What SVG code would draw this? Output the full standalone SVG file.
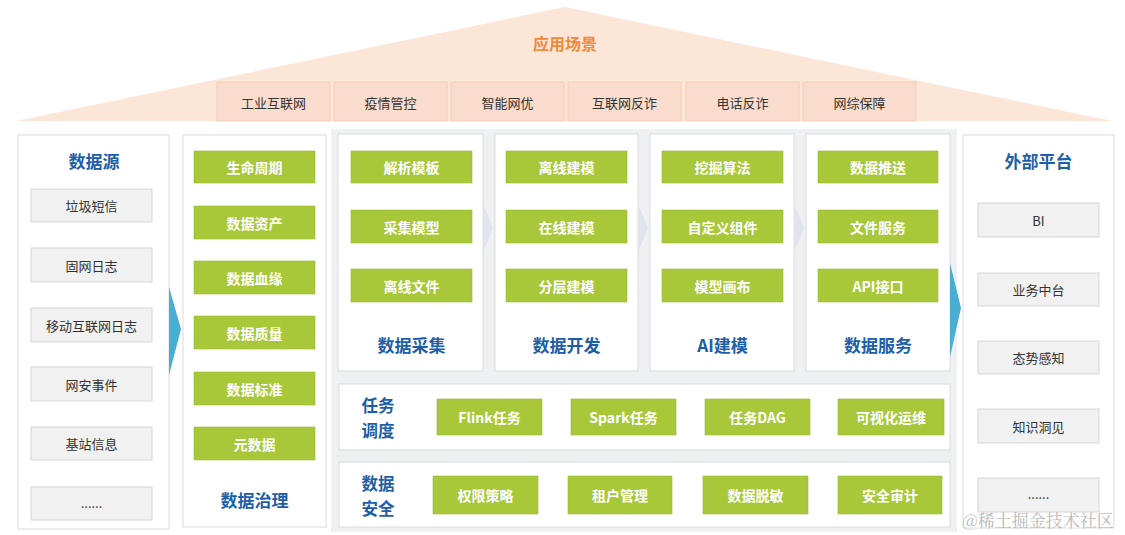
<svg xmlns="http://www.w3.org/2000/svg" width="1125" height="535" viewBox="0 0 1125 535">
<style>
text{font-family:"Noto Sans CJK SC","Noto Sans",sans-serif;text-anchor:middle;dominant-baseline:central}
.panel{fill:#ffffff;stroke:#d9dce1;stroke-width:1}
.title{fill:#1d5ea8;font-size:17px;font-weight:700}
.stitle{fill:#1d5ea8;font-size:16.5px;font-weight:700}
.green{fill:#a8c83a;stroke:#9bbb33;stroke-width:0.6}
.gtxt{fill:#ffffff;font-size:14px;font-weight:700}
.gray{fill:#f1f1f1;stroke:#d6d6d6;stroke-width:1}
.btxt{fill:#333333;font-size:13px}
.scen{fill:#f9dccb;stroke:#f3cdb8;stroke-width:1}
.blue{fill:#4aaed3}
.faint{fill:#dfe4ee}
</style>
<rect x="0" y="0" width="1125" height="535" fill="#ffffff"/>
<rect x="331" y="129" width="626" height="403" fill="#eff0f2"/>

<g id="scenarios">
  <polygon points="565,7 1112,121 16,121" fill="#fbe6d8"/>
  <text x="565" y="43" fill="#ee8a3a" font-size="16" font-weight="700">应用场景</text>
  <rect class="scen" x="217" y="82" width="113" height="39"/><text class="btxt" x="273.5" y="102">工业互联网</text>
  <rect class="scen" x="334" y="82" width="113" height="39"/><text class="btxt" x="390.5" y="102">疫情管控</text>
  <rect class="scen" x="451" y="82" width="113" height="39"/><text class="btxt" x="507.5" y="102">智能网优</text>
  <rect class="scen" x="568" y="82" width="113" height="39"/><text class="btxt" x="624.5" y="102">互联网反诈</text>
  <rect class="scen" x="686" y="82" width="113" height="39"/><text class="btxt" x="742.5" y="102">电话反诈</text>
  <rect class="scen" x="803" y="82" width="113" height="39"/><text class="btxt" x="859.5" y="102">网综保障</text>
</g>

<g id="datasource">
  <rect class="panel" x="18" y="135" width="151" height="394"/>
  <text class="title" x="94" y="160">数据源</text>
  <rect class="gray" x="31" y="189" width="121" height="33"/><text class="btxt" x="91.5" y="205.5">垃圾短信</text>
  <rect class="gray" x="31" y="248" width="121" height="34"/><text class="btxt" x="91.5" y="265">固网日志</text>
  <rect class="gray" x="31" y="308" width="121" height="34"/><text class="btxt" x="91.5" y="325">移动互联网日志</text>
  <rect class="gray" x="31" y="367" width="121" height="34"/><text class="btxt" x="91.5" y="384">网安事件</text>
  <rect class="gray" x="31" y="427" width="121" height="33"/><text class="btxt" x="91.5" y="443.5">基站信息</text>
  <rect class="gray" x="31" y="487" width="121" height="33"/><text class="btxt" x="91.5" y="502">......</text>
</g>

<g id="governance">
  <rect class="panel" x="183" y="135" width="143" height="392"/>
  <rect class="green" x="194" y="151" width="121" height="32"/><text class="gtxt" x="254.5" y="167">生命周期</text>
  <rect class="green" x="194" y="206" width="121" height="33"/><text class="gtxt" x="254.5" y="222.5">数据资产</text>
  <rect class="green" x="194" y="261" width="121" height="33"/><text class="gtxt" x="254.5" y="277.5">数据血缘</text>
  <rect class="green" x="194" y="316" width="121" height="33"/><text class="gtxt" x="254.5" y="332.5">数据质量</text>
  <rect class="green" x="194" y="372" width="121" height="33"/><text class="gtxt" x="254.5" y="388.5">数据标准</text>
  <rect class="green" x="194" y="427" width="121" height="33"/><text class="gtxt" x="254.5" y="443.5">元数据</text>
  <text class="title" x="254.5" y="499">数据治理</text>
</g>

<g id="collect">
  <rect class="panel" x="338" y="134" width="145" height="237"/>
  <rect class="green" x="351" y="151" width="121" height="32"/><text class="gtxt" x="411.5" y="167">解析模板</text>
  <rect class="green" x="351" y="210" width="121" height="33"/><text class="gtxt" x="411.5" y="226.5">采集模型</text>
  <rect class="green" x="351" y="269" width="121" height="33"/><text class="gtxt" x="411.5" y="285.5">离线文件</text>
  <text class="title" x="411.5" y="344">数据采集</text>
</g>

<g id="develop">
  <rect class="panel" x="495" y="134" width="143" height="237"/>
  <rect class="green" x="506" y="151" width="121" height="32"/><text class="gtxt" x="566.5" y="167">离线建模</text>
  <rect class="green" x="506" y="210" width="121" height="33"/><text class="gtxt" x="566.5" y="226.5">在线建模</text>
  <rect class="green" x="506" y="269" width="121" height="33"/><text class="gtxt" x="566.5" y="285.5">分层建模</text>
  <text class="title" x="566.5" y="344">数据开发</text>
</g>

<g id="aimodel">
  <rect class="panel" x="650" y="134" width="144" height="237"/>
  <rect class="green" x="662" y="151" width="121" height="32"/><text class="gtxt" x="722.5" y="167">挖掘算法</text>
  <rect class="green" x="662" y="210" width="121" height="33"/><text class="gtxt" x="722.5" y="226.5">自定义组件</text>
  <rect class="green" x="662" y="269" width="121" height="33"/><text class="gtxt" x="722.5" y="285.5">模型画布</text>
  <text class="title" x="722.5" y="344">AI建模</text>
</g>

<g id="service">
  <rect class="panel" x="806" y="134" width="144" height="237"/>
  <rect class="green" x="818" y="151" width="120" height="32"/><text class="gtxt" x="878" y="167">数据推送</text>
  <rect class="green" x="818" y="210" width="120" height="33"/><text class="gtxt" x="878" y="226.5">文件服务</text>
  <rect class="green" x="818" y="269" width="120" height="33"/><text class="gtxt" x="878" y="285.5">API接口</text>
  <text class="title" x="878" y="344">数据服务</text>
</g>

<g id="schedule">
  <rect class="panel" x="339" y="384" width="611" height="66"/>
  <text class="stitle" x="378" y="405">任务</text>
  <text class="stitle" x="378" y="430">调度</text>
  <rect class="green" x="437" y="399" width="105" height="36"/><text class="gtxt" x="489.5" y="417">Flink任务</text>
  <rect class="green" x="571" y="399" width="105" height="36"/><text class="gtxt" x="623.5" y="417">Spark任务</text>
  <rect class="green" x="705" y="399" width="105" height="36"/><text class="gtxt" x="757.5" y="417">任务DAG</text>
  <rect class="green" x="838" y="399" width="106" height="36"/><text class="gtxt" x="891" y="417">可视化运维</text>
</g>

<g id="security">
  <rect class="panel" x="339" y="462" width="611" height="65"/>
  <text class="stitle" x="378" y="483">数据</text>
  <text class="stitle" x="378" y="508">安全</text>
  <rect class="green" x="433" y="476" width="105" height="38"/><text class="gtxt" x="485.5" y="495">权限策略</text>
  <rect class="green" x="568" y="476" width="104" height="38"/><text class="gtxt" x="620" y="495">租户管理</text>
  <rect class="green" x="703" y="476" width="105" height="38"/><text class="gtxt" x="755.5" y="495">数据脱敏</text>
  <rect class="green" x="838" y="476" width="104" height="38"/><text class="gtxt" x="890" y="495">安全审计</text>
</g>

<g id="external">
  <rect class="panel" x="963" y="135" width="151" height="393"/>
  <text class="title" x="1038.5" y="160">外部平台</text>
  <rect class="gray" x="978" y="203" width="121" height="34"/><text class="btxt" x="1038.5" y="220">BI</text>
  <rect class="gray" x="978" y="273" width="121" height="33"/><text class="btxt" x="1038.5" y="289.5">业务中台</text>
  <rect class="gray" x="978" y="341" width="121" height="33"/><text class="btxt" x="1038.5" y="357.5">态势感知</text>
  <rect class="gray" x="978" y="409" width="121" height="34"/><text class="btxt" x="1038.5" y="426">知识洞见</text>
  <rect class="gray" x="978" y="478" width="121" height="34"/><text class="btxt" x="1038.5" y="493">......</text>
</g>

<g id="connectors">
  <polygon class="blue" points="169,287 181,329 169,375"/>
  <polygon class="blue" points="950,263 961,308 950,357"/>
  <polygon class="faint" points="484,206 493,228 484,250"/>
  <polygon class="faint" points="639,206 648,228 639,250"/>
  <polygon class="faint" points="795,206 804,228 795,250"/>
</g>

<text x="1038" y="519" fill="#b8b8b8" font-size="17" style="font-family:'Noto Serif CJK SC','Noto Sans CJK SC',serif">@稀土掘金技术社区</text>
</svg>
